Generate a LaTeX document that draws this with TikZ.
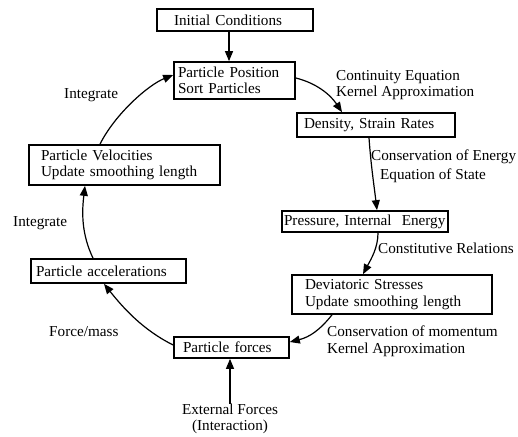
\documentclass[tikz,border=0pt]{standalone}
\usepackage{fontspec}
\setmainfont{Liberation Serif}
\usetikzlibrary{arrows.meta}
\newcommand{\fs}{\fontsize{15.2}{16.5}\selectfont}
\tikzset{
  box/.style={draw, line width=1.7pt, inner ysep=0pt, align=left, font=\fs},
  lbl/.style={inner sep=0pt, align=left, font=\fs},
  conn/.style={line width=1.2pt, -{Triangle[length=10pt,width=8pt]}},
}
\begin{document}
\begin{tikzpicture}[x=1pt,y=-1pt]
\useasboundingbox (0,0) rectangle (518,436);
% boxes
\node[box, text width=122pt, inner xsep=17pt, minimum height=22pt] (init) at (235,20) {Initial Conditions};
\node[box, text width=113pt, inner xsep=4pt, minimum height=37pt] (pos) at (234.5,80.5) {Particle Position\\Sort Particles};
\node[box, text width=144pt, inner xsep=7pt, minimum height=24pt] (dens) at (376,125) {Density, Strain Rates};
\node[box, text width=162pt, inner xsep=2pt, minimum height=21pt] (pres) at (365,221.5) {Pressure, Internal\ \ Energy};
\node[box, text width=174pt, inner xsep=13pt, minimum height=39pt] (dev) at (392,294.5) {Deviatoric Stresses\\Update smoothing length};
\node[box, text width=97pt, inner xsep=9pt, minimum height=21pt] (forces) at (231.5,347.5) {Particle forces};
\node[box, text width=145pt, inner xsep=5pt, minimum height=24pt] (acc) at (108.5,271) {Particle accelerations};
\node[box, text width=167pt, inner xsep=12pt, minimum height=40pt] (vel) at (124.5,165) {Particle Velocities\\Update smoothing length};
\node[lbl, align=center] (ext) at (230,419) {External Forces\\(Interaction)};
% labels
\node[lbl, anchor=west] (l1) at (336,85) {Continuity Equation\\Kernel Approximation};
\node[lbl, anchor=west] (l2a) at (371,157) {Conservation of Energy};
\node[lbl, anchor=west] (l2b) at (380,176) {Equation of State};
\node[lbl, anchor=west] (l3) at (378,248) {Constitutive Relations};
\node[lbl, anchor=west] (l4) at (327,341.5) {Conservation of momentum\\Kernel Approximation};
\node[lbl, anchor=west] (l5) at (49,332) {Force/mass};
\node[lbl, anchor=west] (l6) at (13,223) {Integrate};
\node[lbl, anchor=west] (l7) at (64,95) {Integrate};
% connectors
\draw[conn] ([xshift=-6pt]init.south) -- ([xshift=-6pt]init.south |- pos.north);
\draw[conn] ([yshift=2.5pt]pos.east) .. controls +(20,5) and +(-12,-18) .. ([xshift=-34pt]dens.north);
\draw[conn] ([xshift=-7pt]dens.south) .. controls +(2,28) and +(-3,-25) .. ([xshift=12pt]pres.north);
\draw[conn] ([xshift=13pt]pres.south) .. controls +(0,15) and +(8,-15) .. ([xshift=-29pt]dev.north);
\draw[conn] ([xshift=-60pt]dev.south) .. controls +(-12,15) and +(20,-5) .. ([yshift=5.5pt]forces.east);
\draw[conn] ([yshift=2.5pt]forces.west) .. controls +(-30,-15) and +(20,25) .. ([xshift=-4.5pt]acc.south);
\draw[conn] ([xshift=-15.5pt]acc.north) .. controls +(-12,-25) and +(-3,25) .. ([xshift=-39.5pt]vel.south);
\draw[conn] ([xshift=-24.5pt]vel.north) .. controls +(15,-30) and +(-25,10) .. ([yshift=5.5pt]pos.west);
\draw[conn] (ext.north) -- (ext.north |- forces.south);
\end{tikzpicture}
\end{document}
